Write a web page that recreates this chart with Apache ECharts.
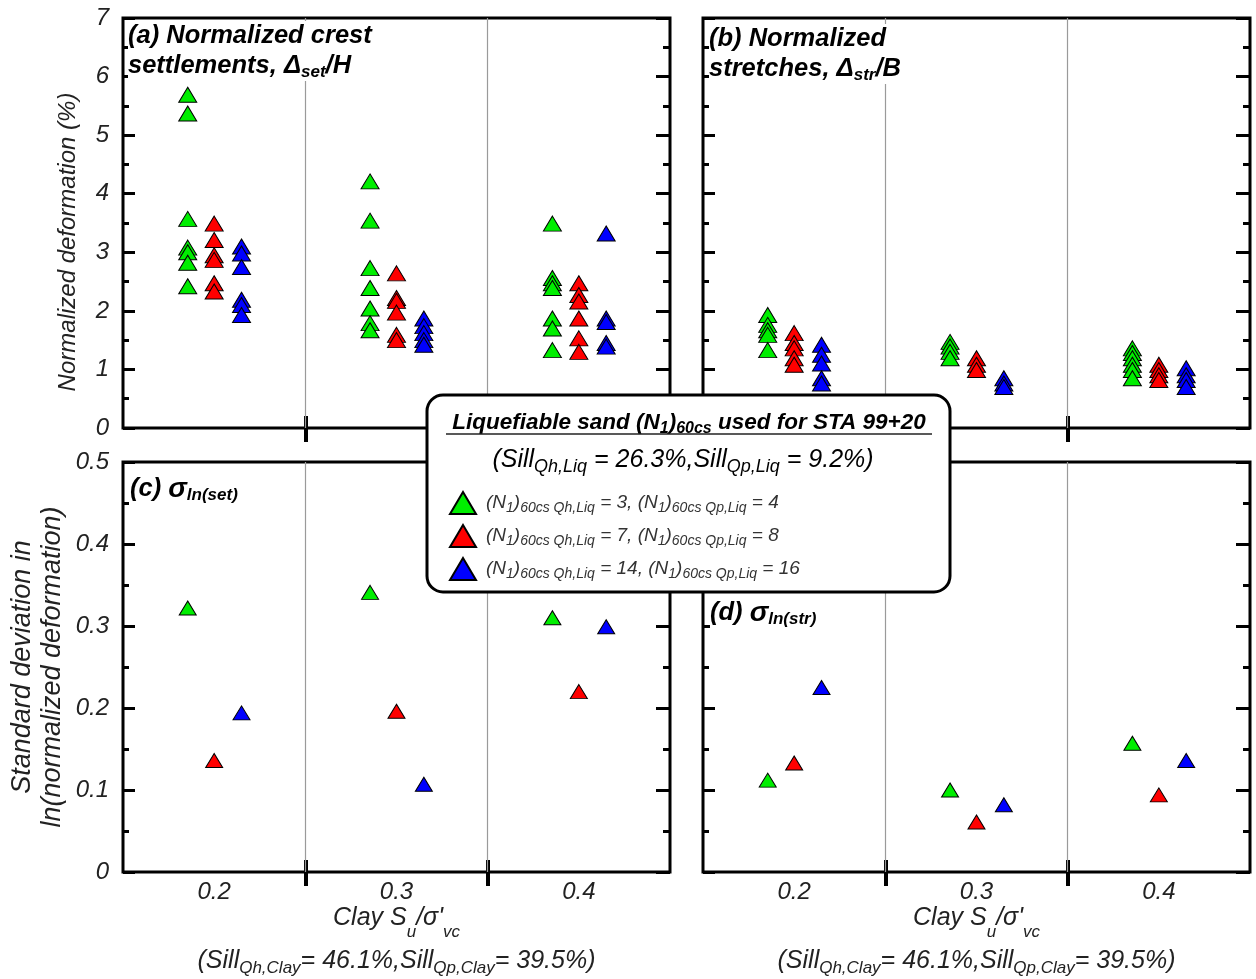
<!DOCTYPE html>
<html><head><meta charset="utf-8">
<script src="https://cdn.jsdelivr.net/npm/echarts@6/dist/echarts.min.js"></script>
<style>html,body{margin:0;padding:0;background:#fff}#c{width:1256px;height:979px}</style>
</head><body><div id="c"></div>
<script>
// ---------- data ----------
const clayRatio = [0.2, 0.3, 0.4];
const bandEdges = [0.25, 0.35];
const sandQh = [3, 7, 14];
const sandQp = [4, 8, 16];
const seriesNames = ['Qh3', 'Qh7', 'Qh14'];
// (a) normalized crest settlements (%), one list per clay ratio
const setGreen = [[5.69, 5.37, 3.57, 3.08, 3.00, 2.82, 2.42], [4.21, 3.54, 2.73, 2.39, 2.04, 1.79, 1.67], [3.49, 2.56, 2.47, 2.39, 1.87, 1.70, 1.33]];
const setRed   = [[3.49, 3.21, 2.95, 2.87, 2.47, 2.33], [2.64, 2.22, 2.17, 1.97, 1.59, 1.50], [2.47, 2.27, 2.16, 1.87, 1.53, 1.30]];
const setBlue  = [[3.10, 2.98, 2.75, 2.19, 2.10, 1.93], [1.87, 1.74, 1.62, 1.50, 1.42], [3.32, 1.87, 1.81, 1.45, 1.39]];
// (b) normalized stretches (%)
const strGreen = [[1.93, 1.76, 1.67, 1.59, 1.33], [1.47, 1.39, 1.30, 1.19], [1.36, 1.28, 1.19, 1.08, 0.99, 0.85]];
const strRed   = [[1.62, 1.45, 1.36, 1.19, 1.08], [1.19, 1.08, 0.99], [1.08, 0.99, 0.90, 0.82]];
const strBlue  = [[1.42, 1.25, 1.10, 0.85, 0.76], [0.85, 0.76, 0.70], [1.02, 0.90, 0.82, 0.70]];
// (c) sigma ln(set)
const sigSetGreen = [0.322, 0.341, 0.310];
const sigSetRed   = [0.136, 0.196, 0.220];
const sigSetBlue  = [0.194, 0.107, 0.299];
// (d) sigma ln(str)
const sigStrGreen = [0.112, 0.100, 0.157];
const sigStrRed   = [0.133, 0.061, 0.094];
const sigStrBlue  = [0.225, 0.082, 0.136];

// ---------- chart ----------
const FONT = "'Liberation Sans', Arial, sans-serif";
const COLORS = ['#00ee00', '#ff0000', '#0000ff'];
const DODGE = [-0.0145, 0, 0.015];
const TXT = '#222';

const panels = [
  {rect: {left: 123, top: 18, width: 547, height: 410}, groups: [setGreen, setRed, setBlue], ymax: 7, yint: 1, leftCol: true, bottomRow: false, size: [18, 15],
   yName: 'Normalized deformation (%)', yGap: 40, yFont: 24, yPad: [0, 38, 0, 0]},
  {rect: {left: 703, top: 18, width: 547, height: 410}, groups: [strGreen, strRed, strBlue], ymax: 7, yint: 1, leftCol: false, bottomRow: false, size: [18, 15]},
  {rect: {left: 123, top: 462, width: 547, height: 410}, groups: [sigSetGreen, sigSetRed, sigSetBlue], ymax: 0.5, yint: 0.1, leftCol: true, bottomRow: true, size: [17, 14],
   yName: 'Standard deviation in\nln(normalized deformation)', yGap: 56, yFont: 27, yPad: [0, 0, 0, 0]},
  {rect: {left: 703, top: 462, width: 547, height: 410}, groups: [sigStrGreen, sigStrRed, sigStrBlue], ymax: 0.5, yint: 0.1, leftCol: false, bottomRow: true, size: [17, 14]}
];

const xNameRich = {
  t: {fontSize: 25, fontStyle: 'italic', fontFamily: FONT, color: TXT, lineHeight: 46},
  s: {fontSize: 17, fontStyle: 'italic', fontFamily: FONT, color: TXT, lineHeight: 14, verticalAlign: 'bottom'},
  gap: {fontSize: 4, lineHeight: 4},
  t2: {fontSize: 25, fontStyle: 'italic', fontFamily: FONT, color: TXT, lineHeight: 32},
  s2: {fontSize: 17, fontStyle: 'italic', fontFamily: FONT, color: TXT, lineHeight: 14, verticalAlign: 'bottom'}
};
const xNameText = "{t|Clay S}{s|u}{t|/σ'}{s|vc}\n{gap| }\n{t2|(Sill}{s2|Qh,Clay}{t2|= 46.1%,Sill}{s2|Qp,Clay}{t2|= 39.5%)}";

const grid = [], xAxis = [], yAxis = [], series = [];
panels.forEach((p, g) => {
  grid.push(Object.assign({show: true, borderColor: '#000', borderWidth: 3, backgroundColor: 'transparent',
    containLabel: false, outerBoundsMode: 'none'}, p.rect));
  // bottom x axis
  xAxis.push({
    gridIndex: g, type: 'value', position: 'bottom', min: 0.15, max: 0.45, interval: 0.05,
    axisLine: {show: false}, splitLine: {show: false},
    axisTick: {show: true, inside: true, length: 12, customValues: bandEdges, lineStyle: {color: '#000', width: 4}},
    axisLabel: {show: p.bottomRow, customValues: clayRatio, formatter: v => v.toFixed(1), margin: 8,
      fontSize: 24, fontStyle: 'italic', fontFamily: FONT, color: TXT},
    name: p.bottomRow ? xNameText : '', nameLocation: 'middle', nameGap: 23, nameMoveOverlap: false,
    nameTextStyle: {rich: xNameRich, align: 'center'}
  });
  // top x axis (ticks only)
  xAxis.push({
    gridIndex: g, type: 'value', position: 'top', min: 0.15, max: 0.45, interval: 0.05,
    axisLine: {show: false}, splitLine: {show: false},
    axisTick: {show: true, inside: true, length: 14, customValues: bandEdges, lineStyle: {color: '#000', width: 4}},
    axisLabel: {show: false}
  });
  // left y axis
  yAxis.push({
    gridIndex: g, type: 'value', position: 'left', min: 0, max: p.ymax, interval: p.yint,
    axisLine: {show: false}, splitLine: {show: false},
    axisTick: {show: true, inside: true, length: 12, lineStyle: {color: '#000', width: 3}},
    minorTick: {show: true, splitNumber: 2, length: 6, lineStyle: {color: '#000', width: 3}},
    axisLabel: {show: p.leftCol, margin: 14, fontSize: 24, fontStyle: 'italic', fontFamily: FONT, color: TXT},
    name: p.yName || '', nameLocation: 'middle', nameGap: p.yGap || 0,
    nameTextStyle: {fontSize: p.yFont || 24, fontStyle: 'italic', fontFamily: FONT, color: TXT, lineHeight: 30, align: 'center', padding: p.yPad || 0}
  });
  // right y axis (ticks only)
  yAxis.push({
    gridIndex: g, type: 'value', position: 'right', min: 0, max: p.ymax, interval: p.yint,
    axisLine: {show: false}, splitLine: {show: false},
    axisTick: {show: true, inside: true, length: 14, lineStyle: {color: '#000', width: 3}},
    minorTick: {show: true, splitNumber: 2, length: 7, lineStyle: {color: '#000', width: 3}},
    axisLabel: {show: false}
  });
  seriesNames.forEach((name, s) => {
    const data = [];
    p.groups[s].forEach((vals, i) => {
      [].concat(vals).forEach(v => data.push([clayRatio[i] + DODGE[s], v]));
    });
    const ser = {
      type: 'scatter', name, xAxisIndex: 2 * g, yAxisIndex: 2 * g, data,
      symbol: 'triangle', symbolSize: p.size,
      itemStyle: {color: COLORS[s], borderColor: '#000', borderWidth: 1, opacity: 1},
      emphasis: {disabled: true}, z: 3 + s
    };
    if (s === 0) {
      ser.markLine = {
        silent: true, symbol: ['none', 'none'], label: {show: false}, animation: false,
        lineStyle: {color: '#9a9a9a', width: 1.2, type: 'solid'},
        emphasis: {disabled: true},
        data: bandEdges.map(v => ({xAxis: v}))
      };
    }
    series.push(ser);
  });
});

const titleRich = {
  b: {fontSize: 25.5, fontWeight: 'bold', fontStyle: 'italic', fontFamily: FONT, color: '#111', lineHeight: 30},
  s: {fontSize: 17, fontWeight: 'bold', fontStyle: 'italic', fontFamily: FONT, color: '#111', lineHeight: 4, verticalAlign: 'bottom'},
  g: {fontSize: 28, fontWeight: 'bold', fontStyle: 'italic', fontFamily: FONT, color: '#111', lineHeight: 30},
  s3: {fontSize: 17, fontWeight: 'bold', fontStyle: 'italic', fontFamily: FONT, color: '#111', lineHeight: 10, verticalAlign: 'bottom'}
};
function titleText(x, y, text) {
  return {type: 'text', x, y, z: 101,
    style: {text, rich: titleRich, align: 'left', verticalAlign: 'top', backgroundColor: '#fff'}};
}

const legRich = {
  sp: {width: 5},
  n: {fontSize: 19, fontStyle: 'italic', fontFamily: FONT, color: '#333', lineHeight: 24},
  s: {fontSize: 14, fontStyle: 'italic', fontFamily: FONT, color: '#333', lineHeight: 13, verticalAlign: 'bottom'}
};
const headRich = {
  b: {fontSize: 22.5, fontWeight: 'bold', fontStyle: 'italic', fontFamily: FONT, color: '#222', lineHeight: 28},
  bs: {fontSize: 16, fontWeight: 'bold', fontStyle: 'italic', fontFamily: FONT, color: '#222', lineHeight: 12, verticalAlign: 'bottom'},
  m: {fontSize: 25, fontStyle: 'italic', fontFamily: FONT, color: '#222', lineHeight: 32},
  ms: {fontSize: 18, fontStyle: 'italic', fontFamily: FONT, color: '#222', lineHeight: 12, verticalAlign: 'bottom'}
};

const option = {
  animation: false,
  backgroundColor: '#fff',
  grid, xAxis, yAxis, series,
  legend: {
    orient: 'vertical', left: 444, top: 486, itemWidth: 26, itemHeight: 22, itemGap: 9,
    icon: 'triangle', z: 110, selectedMode: false, data: seriesNames,
    textStyle: {rich: legRich},
    formatter: name => {
      const i = seriesNames.indexOf(name);
      return `{sp|}{n|(N}{s|1}{n|)}{s|60cs Qh,Liq}{n| = ${sandQh[i]}, (N}{s|1}{n|)}{s|60cs Qp,Liq}{n| = ${sandQp[i]}}`;
    }
  },
  graphic: [
    titleText(128, 21, '{b|(a) Normalized crest}\n{b|settlements, Δ}{s|set}{b|/H}'),
    titleText(709, 24, '{b|(b) Normalized}\n{b|stretches, Δ}{s|str}{b|/B}'),
    titleText(130, 474, '{b|(c) }{g|σ}{s3|ln(set)}'),
    titleText(710, 598, '{b|(d) }{g|σ}{s3|ln(str)}'),
    {type: 'rect', z: 100, shape: {x: 427, y: 395, width: 523, height: 197, r: 16},
     style: {fill: '#fff', stroke: '#000', lineWidth: 3}},
    {type: 'text', z: 101, x: 689, y: 423,
     style: {text: '{b|Liquefiable sand (N}{bs|1}{b|)}{bs|60cs}{b| used for STA 99+20}', rich: headRich, align: 'center', verticalAlign: 'middle'}},
    {type: 'line', z: 101, shape: {x1: 446, y1: 434, x2: 932, y2: 434}, style: {stroke: '#222', lineWidth: 1.5}},
    {type: 'text', z: 101, x: 683, y: 460,
     style: {text: '{m|(Sill}{ms|Qh,Liq}{m| = 26.3%,Sill}{ms|Qp,Liq}{m| = 9.2%)}', rich: headRich, align: 'center', verticalAlign: 'middle'}}
  ]
};
const chart = echarts.init(document.getElementById('c'));
chart.setOption(option);
</script>
</body></html>
